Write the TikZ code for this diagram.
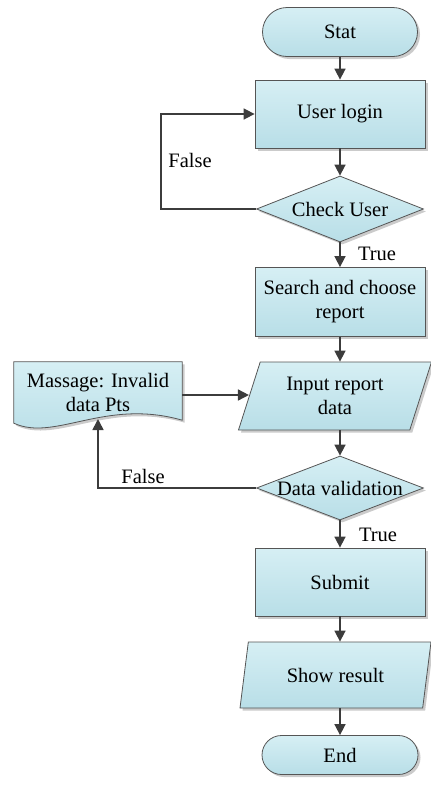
\documentclass[tikz,border=0pt]{standalone}
\usepackage{fontspec}
\setmainfont{Liberation Serif}
\usetikzlibrary{shapes.geometric,arrows.meta,shadows,backgrounds}

\definecolor{boxtop}{RGB}{214,239,244}
\definecolor{boxbot}{RGB}{184,222,231}
\definecolor{edge}{RGB}{85,85,85}
\definecolor{arrowc}{RGB}{60,60,60}

\tikzset{
  txt/.style={font=\fontsize{20.5}{24}\selectfont},
  base/.style={txt, draw=edge, line width=0.8pt, top color=boxtop, bottom color=boxbot,
    drop shadow={shadow xshift=2.5pt, shadow yshift=-2.5pt, fill=black!45, opacity=0.45},
    inner sep=0pt, align=center},
  terminal/.style={base, rectangle},
  process/.style={base, rectangle, minimum width=170pt, minimum height=68pt},
  decision/.style={base, diamond, minimum width=167pt},
  io/.style={base, trapezium, trapezium left angle=60, trapezium right angle=120,
    trapezium stretches body, minimum height=68pt},
  flow/.style={draw=arrowc, line width=1.6pt, -{Triangle[length=11pt,width=11pt]}},
  lbl/.style={txt, inner sep=0pt}
}

\begin{document}
\begin{tikzpicture}[x=1pt,y=-1pt]
\useasboundingbox (0,0) rectangle (431,785);

% main column
\node[terminal, rounded corners=24.5pt, minimum width=155pt, minimum height=49pt] (stat) at (340,32) {Stat};
\node[process] (login) at (340,114) {User login};
\node[decision, minimum height=66pt] (chk) at (340,209) {\makebox[0pt]{Check User}};
\node[process, minimum height=69pt] (search) at (340,302) {Search and choose\\report};
\node[io, minimum width=193pt] (inp) at (335,396) {Input report\\data};
\node[decision, minimum height=64pt] (dv) at (340,488) {\makebox[0pt]{Data validation}};
\node[process] (submit) at (340,582) {Submit};
\node[io, minimum width=191pt, minimum height=66pt] (show) at (335.5,675) {Show result};
\node[terminal, rounded corners=19.5pt, minimum width=156pt, minimum height=39pt] (end) at (340,755) {End};

% document shape with the error message
\node[txt, inner sep=0pt, minimum width=168pt, minimum height=66pt] (msg) at (98,395)
  {\raisebox{8pt}{\begin{tabular}{@{}c@{}}Massage: Invalid\\ data Pts\end{tabular}}};
\begin{scope}[on background layer]
  \path[base] (msg.north west) -- (msg.north east) -- ([yshift=8pt]msg.south east)
    .. controls (105,398) and (55,442) .. ([yshift=5pt]msg.south west) -- cycle;
\end{scope}
\coordinate (wave) at (98,419);

% connectors
\draw[flow] (stat) -- (login);
\draw[flow] (login) -- (chk);
\draw[flow] (chk) -- (search);
\draw[flow] (search.south) -- (search.south |- inp.north);
\draw[flow] (dv.north |- inp.south) -- (dv.north);
\draw[flow] (dv) -- (submit);
\draw[flow] (submit.south) -- (submit.south |- show.north);
\draw[flow] (end.north |- show.south) -- (end.north);
\draw[flow] (chk.west) -- ++(-95,0) |- (login.west);
\draw[flow] (msg.east) -- (inp.west |- msg.east);
\draw[flow] (dv.west) -| (wave);

% branch labels
\node[lbl] at (190,160) {False};
\node[lbl] at (377,254) {True};
\node[lbl] at (143,476) {False};
\node[lbl] at (378,535) {True};
\end{tikzpicture}
\end{document}
